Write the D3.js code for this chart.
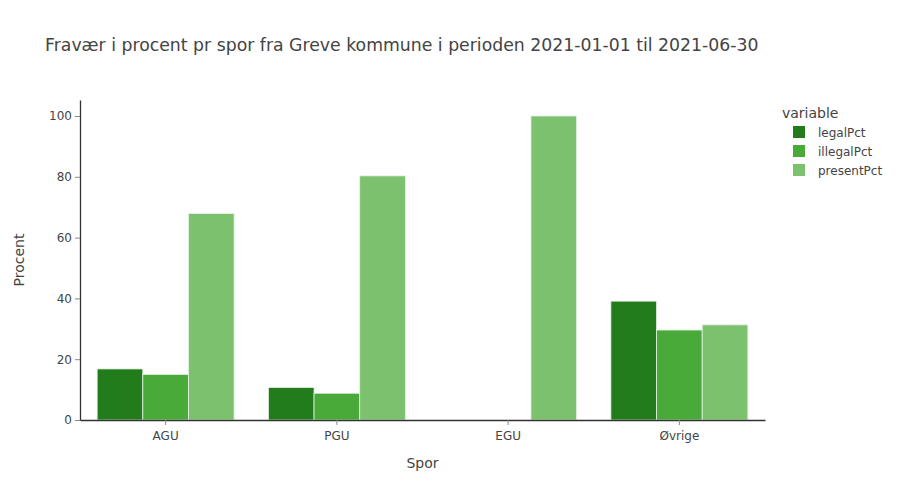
<!DOCTYPE html>
<html>
<head>
<meta charset="utf-8">
<script src="https://cdn.jsdelivr.net/npm/d3@7"></script>
<style>
  body { margin: 0; background: #fff; }
  text { font-family: "DejaVu Sans", Verdana, sans-serif; }
</style>
</head>
<body>
<div id="canvas"></div>
<script>
// data
var categories = ['AGU', 'PGU', 'EGU', 'Øvrige'];
var variables = ['legalPct', 'illegalPct', 'presentPct'];
var legalPct = [16.8, 10.7, 0, 39.1];
var illegalPct = [15.0, 8.8, 0, 29.6];
var presentPct = [67.9, 80.3, 100, 31.3];
var yTicks = [0, 20, 40, 60, 80, 100];
var colors = ['#237c1b', '#49aa3a', '#7cc16e'];

var series = [legalPct, illegalPct, presentPct];

var W = 900, H = 500;
var m = {t: 100, r: 135, b: 80, l: 80},
    w = W - m.l - m.r,
    h = H - m.t - m.b;

var svg = d3.select('#canvas').append('svg')
    .attr('width', W).attr('height', H);

svg.append('text')
    .attr('x', 45).attr('y', 51)
    .style('font-size', '17.3px').style('fill', '#444')
    .text('Fravær i procent pr spor fra Greve kommune i perioden 2021-01-01 til 2021-06-30');

var plot = svg.append('g')
    .attr('transform', 'translate(' + m.l + ',' + m.t + ')');

var x = d3.scaleBand().domain(categories).range([0, w]).paddingInner(0.2).paddingOuter(0.1);
var xTick = d3.scaleBand().domain(categories).range([0, w]);
var xSub = d3.scaleBand().domain(variables).range([0, x.bandwidth()]);
var y = d3.scaleLinear().domain([0, 105.26]).range([h, 0]);

// bars
var rows = [];
categories.forEach(function(c, i){
    variables.forEach(function(v, j){
        rows.push({cat: c, v: v, val: series[j][i], j: j});
    });
});

plot.selectAll('.bar')
    .data(rows)
    .enter().append('rect').attr('class', 'bar')
    .attr('x', function(d){ return x(d.cat) + xSub(d.v); })
    .attr('width', xSub.bandwidth())
    .attr('y', function(d){ return y(d.val); })
    .attr('height', function(d){ return y(0) - y(d.val); })
    .style('fill', function(d){ return colors[d.j]; })
    .style('stroke', '#e8f2e6').style('stroke-width', 0.8)
    .style('display', function(d){ return d.val > 0 ? null : 'none'; });

// axes
var xAxis = plot.append('g')
    .attr('transform', 'translate(0,' + h + ')')
    .call(d3.axisBottom(xTick).tickSize(5).tickSizeOuter(0).tickPadding(6));
var yAxis = plot.append('g')
    .call(d3.axisLeft(y).tickValues(yTicks).tickSize(5).tickSizeOuter(0).tickPadding(3));

[xAxis, yAxis].forEach(function(a){
    a.select('.domain').style('stroke', '#333').style('stroke-width', 1.3);
    a.selectAll('.tick line').style('stroke', '#888');
    a.selectAll('.tick text').style('font-size', '12px').style('fill', '#444')
        .style('font-family', '"DejaVu Sans", sans-serif');
});

svg.append('text')
    .attr('x', m.l + w / 2).attr('y', 468)
    .attr('text-anchor', 'middle')
    .style('font-size', '14px').style('fill', '#444')
    .text('Spor');

svg.append('text')
    .attr('transform', 'translate(24,' + (m.t + h / 2) + ') rotate(-90)')
    .attr('text-anchor', 'middle')
    .style('font-size', '14px').style('fill', '#444')
    .text('Procent');

// legend
var legend = svg.append('g').attr('transform', 'translate(782,0)');
legend.append('text')
    .attr('x', 0).attr('y', 118)
    .style('font-size', '14px').style('fill', '#444')
    .text('variable');
var items = legend.selectAll('.item')
    .data(variables)
    .enter().append('g').attr('class', 'item')
    .attr('transform', function(d, i){ return 'translate(0,' + (132 + i * 19) + ')'; });
items.append('rect')
    .attr('x', 11).attr('y', -6).attr('width', 12).attr('height', 12)
    .style('fill', function(d, i){ return colors[i]; });
items.append('text')
    .attr('x', 36).attr('y', 4.5)
    .style('font-size', '12px').style('fill', '#444')
    .text(function(d){ return d; });
</script>
</body>
</html>
